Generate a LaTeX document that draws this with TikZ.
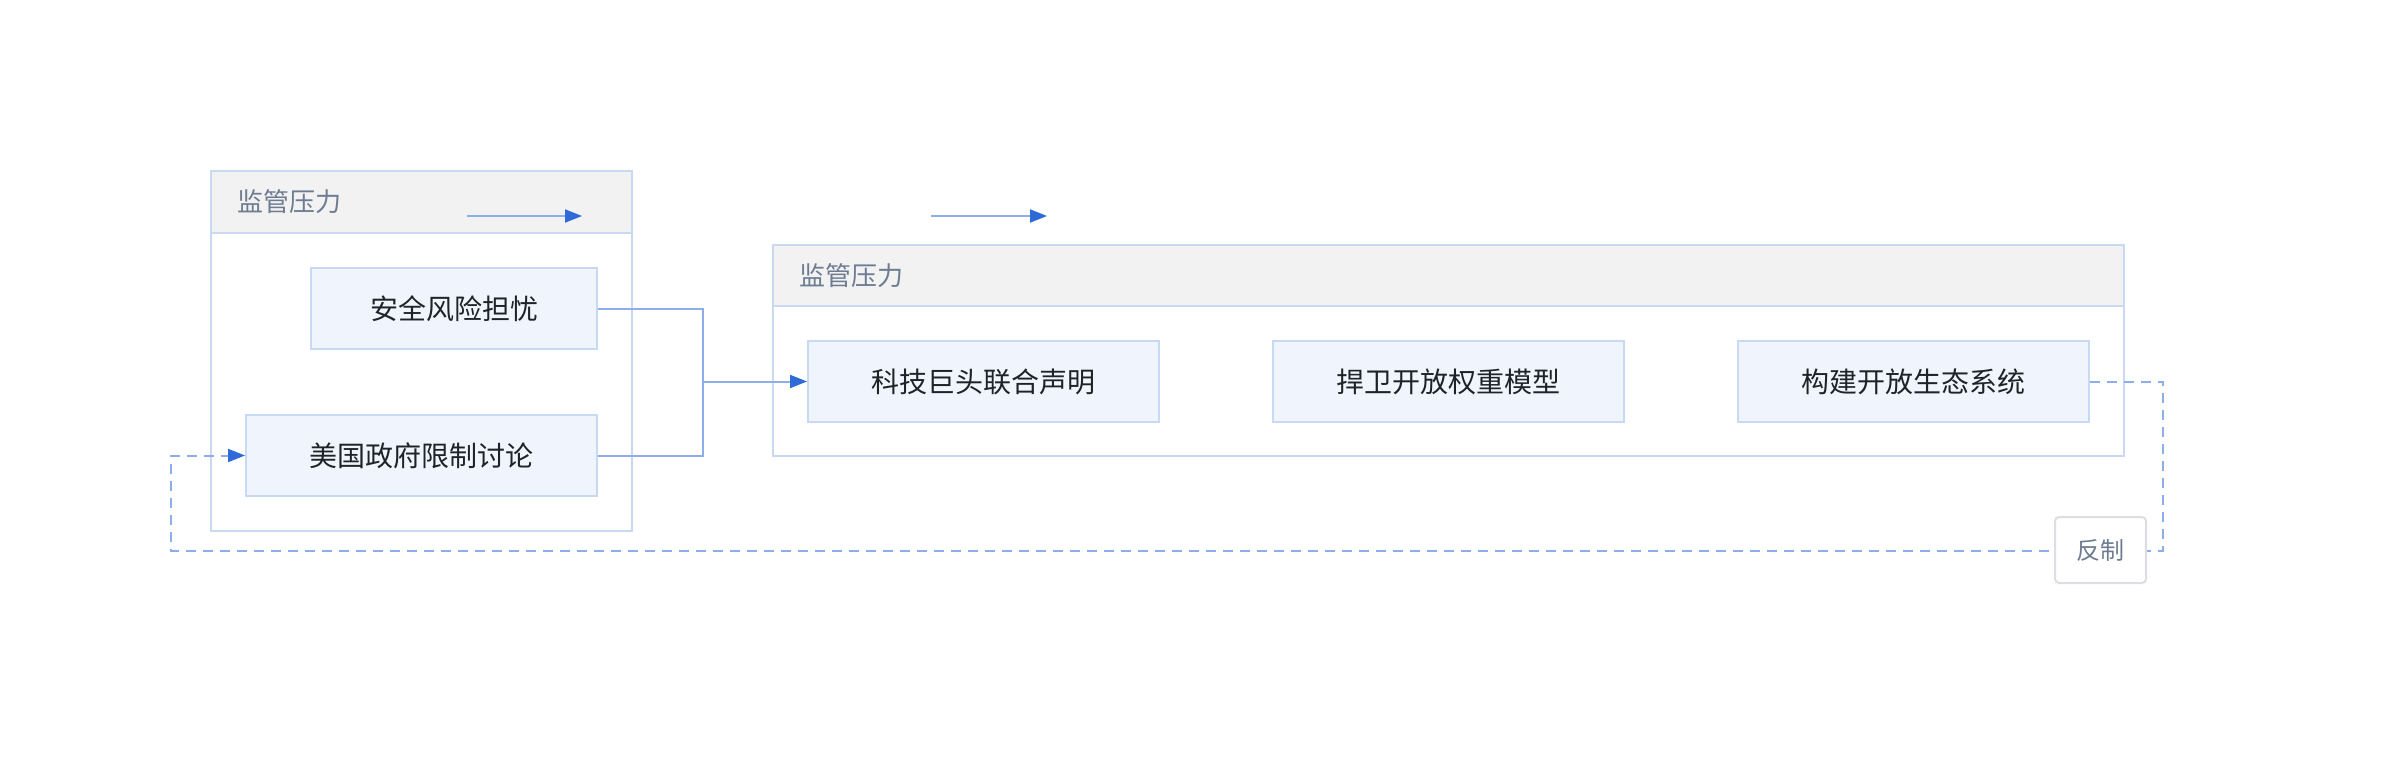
\documentclass[tikz,border=0pt]{standalone}
\usepackage{fontspec}
\setmainfont{Noto Sans CJK SC}
\usetikzlibrary{arrows.meta,positioning}
\definecolor{clborder}{HTML}{C9D9F2}
\definecolor{hdrfill}{HTML}{F2F2F2}
\definecolor{nodefill}{HTML}{F0F5FD}
\definecolor{nodeborder}{HTML}{C8D9F3}
\definecolor{edgeline}{HTML}{8EAEEA}
\definecolor{arrowblue}{HTML}{2F6AD8}
\definecolor{titletext}{HTML}{6E7C92}
\definecolor{nodetext}{HTML}{1F2329}
\definecolor{lblborder}{HTML}{DCDEE2}
\tikzset{
  procbox/.style={draw=nodeborder, line width=2pt, fill=nodefill, minimum height=81pt,
    inner sep=0pt, font=\fontsize{28}{32}\selectfont, text=nodetext},
  clbox/.style={draw=clborder, line width=2pt, fill=white},
  hdrbox/.style={draw=clborder, line width=2pt, fill=hdrfill},
  cltitle/.style={anchor=west, inner sep=0pt, font=\fontsize{26}{30}\selectfont, text=titletext},
  flow/.style={draw=edgeline, line width=2pt, -{Triangle[length=17pt,width=13pt,color=arrowblue]}},
  flowplain/.style={draw=edgeline, line width=2pt},
  dflow/.style={draw=edgeline, line width=2pt, dash pattern=on 10pt off 7pt,
    -{Triangle[length=17pt,width=13pt,color=arrowblue]}},
  lblbox/.style={draw=lblborder, line width=2pt, fill=white, rounded corners=4pt,
    minimum width=91pt, minimum height=66pt, inner sep=0pt,
    font=\fontsize{24}{28}\selectfont, text=titletext}
}
\begin{document}
\begin{tikzpicture}[x=1pt,y=-1pt]
\useasboundingbox (0,0) rectangle (2400,762);
% left cluster
\draw[clbox] (211,171) rectangle (632,531);
\draw[hdrbox] (211,171) rectangle (632,233);
\node[cltitle] (t1) at (237,202) {监管压力};
% right cluster
\draw[clbox] (773,245) rectangle (2124,456);
\draw[hdrbox] (773,245) rectangle (2124,306);
\node[cltitle] (t2) at (799,276) {监管压力};
% nodes
\node[procbox, minimum width=286pt] (a) at (454,308.5) {安全风险担忧};
\node[procbox, minimum width=351pt] (b) at (421.5,455.5) {美国政府限制讨论};
\node[procbox, minimum width=351pt] (c) at (983.5,381.5) {科技巨头联合声明};
\node[procbox, minimum width=351pt] (d) at (1448,381.5) {捍卫开放权重模型};
\node[procbox, minimum width=351pt] (e) at (1913,381.5) {构建开放生态系统};
% free arrows
\coordinate (f1s) at (467,216);
\coordinate (f1e) at (582,216);
\coordinate (f2s) at (931,216);
\coordinate (f2e) at (1047,216);
\draw[flow] (f1s) -- (f1e);
\draw[flow] (f2s) -- (f2e);
% merge connectors
\coordinate (j) at (703,381.5);
\draw[flowplain] (a.east) -| (j);
\draw[flowplain] (b.east) -| (j);
\draw[flow] (j) -- (c.west);
% feedback dashed
\coordinate (r1) at (2163,381.5);
\coordinate (r2) at (2163,551);
\coordinate (r3) at (171,551);
\coordinate (r4) at (171,455.5);
\draw[dflow] (e.east) -- (r1) -- (r2) -- (r3) -- (r4) -- (b.west);
\node[lblbox] (lbl) at (2100.5,550) {反制};
\end{tikzpicture}
\end{document}
